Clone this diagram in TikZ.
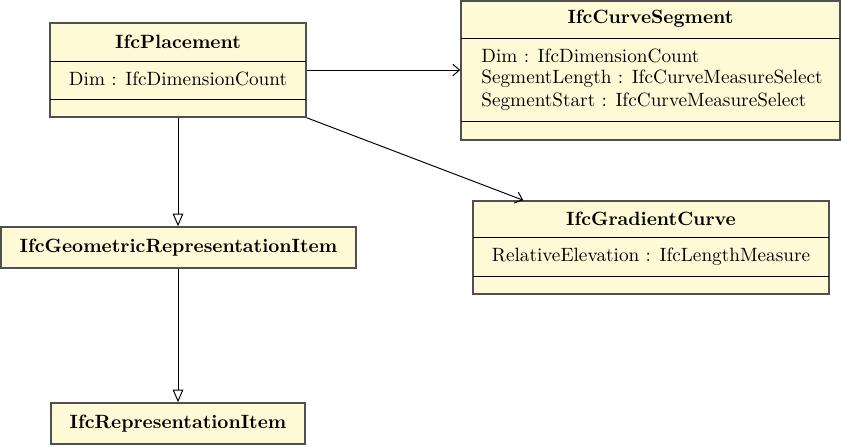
\documentclass[tikz,border=0pt]{standalone}
\usetikzlibrary{arrows.meta,fit,calc}
\definecolor{classfill}{RGB}{255,250,214}
\definecolor{classdraw}{RGB}{80,80,80}
\begin{document}
\begin{tikzpicture}[x=0.52pt,y=-0.52pt,
  classbox/.style={draw=classdraw,fill=classfill,line width=0.8pt,inner sep=0pt},
  divider/.style={draw=black,line width=0.5pt},
  title/.style={font=\bfseries,inner sep=0pt},
  attr/.style={inner sep=0pt},
  assoc/.style={line width=0.5pt,-{Straight Barb[length=3.5pt,width=6pt]}},
  gen/.style={line width=0.5pt,-{Triangle[open,length=6.5pt,width=5.5pt,fill=white]}}]
\useasboundingbox (0,0) rectangle (841,446);

% IfcPlacement
\node[classbox,fit={(50,23) (306,117)}] (pl) {};
\draw[divider] (50,61) -- (306,61);
\draw[divider] (50,99) -- (306,99);
\node[title] (plt) at (178,42) {IfcPlacement};
\node[attr] (pla) at (178,79) {Dim : IfcDimensionCount};

% IfcCurveSegment
\node[classbox,fit={(461,1) (840,140)}] (cs) {};
\draw[divider] (461,38) -- (840,38);
\draw[divider] (461,121) -- (840,121);
\node[title] (cst) at (650.5,19) {IfcCurveSegment};
\node[attr,anchor=west] (csa1) at (481,56) {Dim : IfcDimensionCount};
\node[attr,anchor=west] (csa2) at (481,79) {SegmentLength : IfcCurveMeasureSelect};
\node[attr,anchor=west] (csa3) at (481,102) {SegmentStart : IfcCurveMeasureSelect};

% IfcGradientCurve
\node[classbox,fit={(473,201) (829,294)}] (gc) {};
\draw[divider] (473,237) -- (829,237);
\draw[divider] (473,276) -- (829,276);
\node[title] (gct) at (651,219) {IfcGradientCurve};
\node[attr] (gca) at (651,257) {RelativeElevation : IfcLengthMeasure};

% IfcGeometricRepresentationItem
\node[classbox,fit={(1,227) (356,268)}] (ge) {};
\node[title] (get) at (178.5,247.5) {IfcGeometricRepresentationItem};

% IfcRepresentationItem
\node[classbox,fit={(51,403) (305,444)}] (ri) {};
\node[title] (rit) at (178,423.5) {IfcRepresentationItem};

% connectors
\coordinate (gcin) at ($(gc.north west)+(51,0)$);
\draw[assoc] (pl.east) -- (pl.east -| cs.west);
\draw[assoc] (pl.south east) -- (gcin);
\draw[gen] (pl.south) -- (pl.south |- ge.north);
\draw[gen] (ge.south -| pl.south) -- (pl.south |- ri.north);
\end{tikzpicture}
\end{document}
